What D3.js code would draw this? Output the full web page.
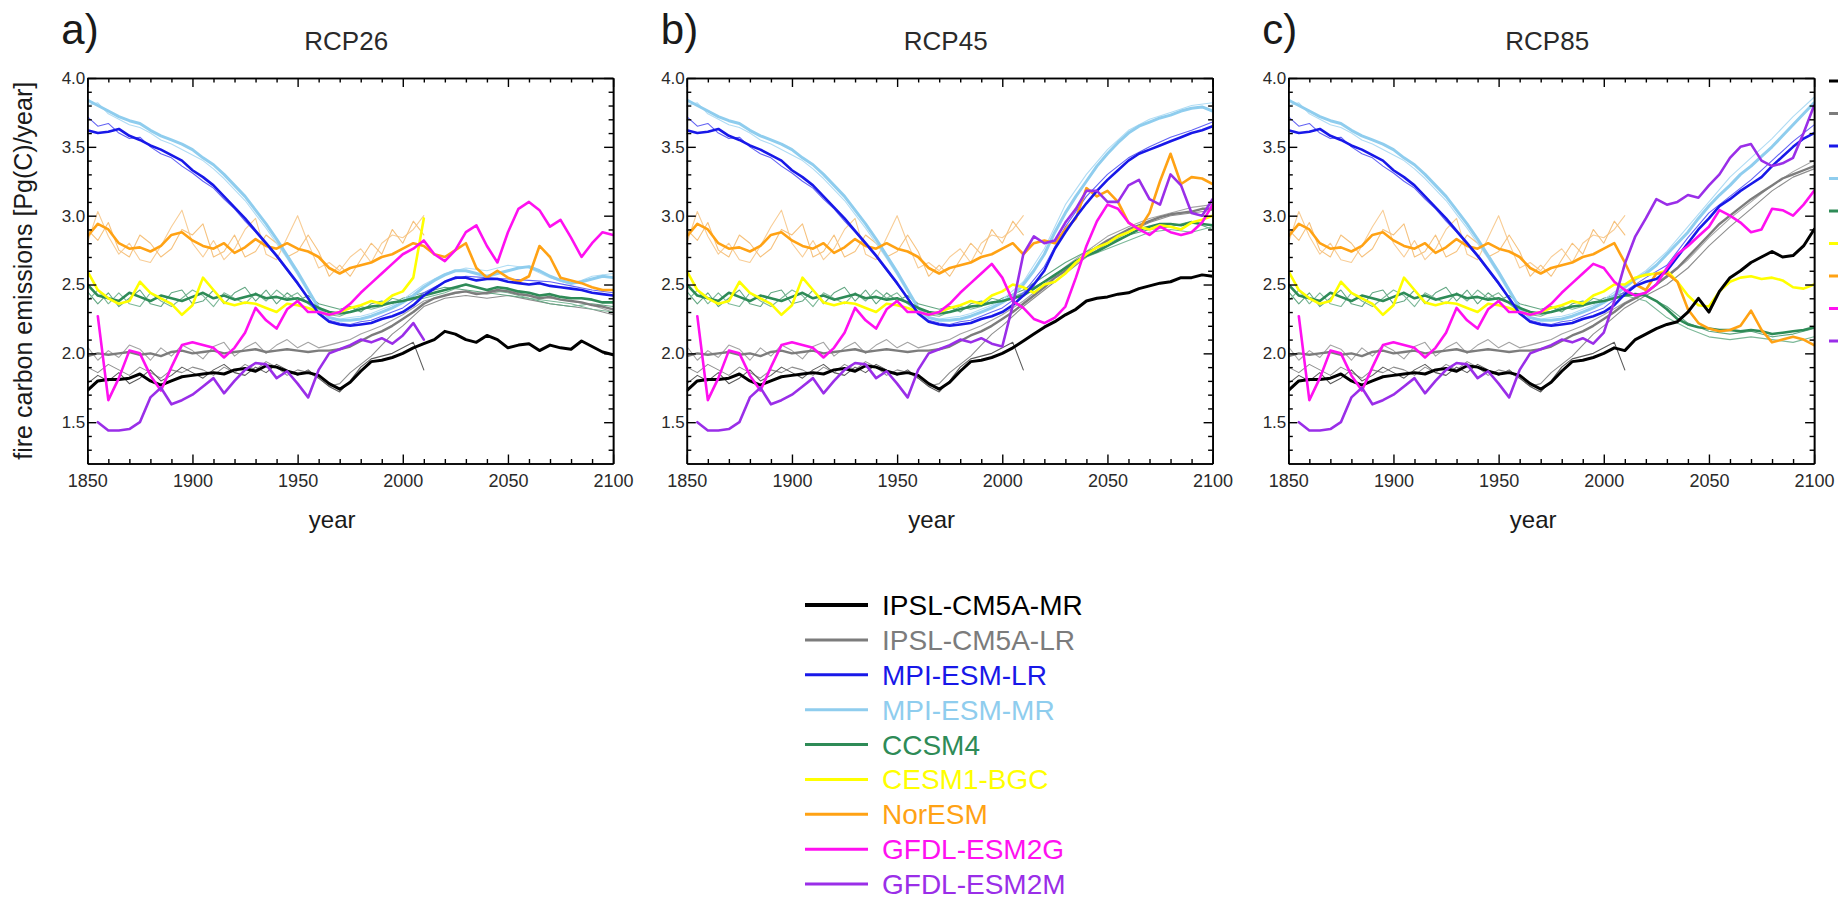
<!DOCTYPE html>
<html lang="en">
<head>
<meta charset="UTF-8">
<title>fire carbon emissions</title>
<script src="https://cdn.jsdelivr.net/npm/d3@7"></script>
<style>
  body { margin: 0; background: #fff; }
  svg { display: block; font-family: 'Liberation Sans', Arial, Helvetica, sans-serif; }
</style>
</head>
<body>
<svg id="chart" width="1845" height="906"></svg>
<script>
// x categories
const histYears = [1850, 1855, 1860, 1865, 1870, 1875, 1880, 1885, 1890, 1895, 1900, 1905, 1910, 1915, 1920,
  1925, 1930, 1935, 1940, 1945, 1950, 1955, 1960, 1965, 1970, 1975, 1980, 1985, 1990, 1995];
const scenYears = [2000, 2005, 2010, 2015, 2020, 2025, 2030, 2035, 2040, 2045, 2050, 2055, 2060, 2065, 2070,
  2075, 2080, 2085, 2090, 2095, 2100];
const thinScenYears = [2000, 2010, 2020, 2030, 2040, 2050, 2060, 2070, 2080, 2090, 2100];
const tailYears = [2000, 2005, 2010];

const scenarios = ['RCP26', 'RCP45', 'RCP85'];
const panelLetters = ['a)', 'b)', 'c)'];
const xTickLabels = [1850, 1900, 1950, 2000, 2050, 2100];
const yTickLabels = [1.5, 2.0, 2.5, 3.0, 3.5, 4.0];

const modelNames = ['IPSL-CM5A-MR', 'IPSL-CM5A-LR', 'MPI-ESM-LR', 'MPI-ESM-MR', 'CCSM4', 'CESM1-BGC',
  'NorESM', 'GFDL-ESM2G', 'GFDL-ESM2M'];
const modelColors = ['#000000', '#7c7c7c', '#1818e8', '#8fcdee', '#2e8b57', '#ffff00',
  '#ffa214', '#ff10f0', '#9a2ee8'];

// thick lines: historical part + one run per scenario
const ipslMR_hist = [1.73, 1.80, 1.81, 1.81, 1.82, 1.85, 1.80, 1.77, 1.80, 1.83, 1.84, 1.85, 1.86, 1.85, 1.88,
  1.89, 1.87, 1.91, 1.90, 1.87, 1.85, 1.86, 1.84, 1.78, 1.74, 1.79, 1.87, 1.94, 1.95, 1.97];
const ipslMR_26 = [2.00, 2.04, 2.07, 2.10, 2.16, 2.14, 2.10, 2.08, 2.13, 2.10, 2.04, 2.06, 2.07, 2.02, 2.06,
  2.04, 2.03, 2.09, 2.05, 2.01, 1.99];
const ipslMR_45 = [2.00, 2.04, 2.09, 2.14, 2.19, 2.23, 2.28, 2.32, 2.38, 2.40, 2.41, 2.43, 2.44, 2.47, 2.49,
  2.51, 2.52, 2.55, 2.55, 2.57, 2.56];
const ipslMR_85 = [2.00, 2.04, 2.02, 2.10, 2.14, 2.18, 2.21, 2.23, 2.30, 2.40, 2.30, 2.45, 2.55, 2.60, 2.66,
  2.70, 2.74, 2.70, 2.71, 2.78, 2.90];

const ipslLR_hist = [1.98, 2.00, 1.99, 2.00, 2.01, 1.99, 2.00, 1.98, 2.01, 2.02, 2.00, 2.01, 2.02, 2.00, 2.01,
  2.02, 2.03, 2.01, 2.02, 2.03, 2.02, 2.01, 2.02, 2.02, 2.03, 2.05, 2.09, 2.13, 2.16, 2.20];
const ipslLR_26 = [2.25, 2.30, 2.36, 2.40, 2.42, 2.44, 2.45, 2.43, 2.44, 2.46, 2.45, 2.43, 2.42, 2.40, 2.41,
  2.39, 2.38, 2.37, 2.35, 2.34, 2.32];
const ipslLR_45 = [2.25, 2.30, 2.36, 2.42, 2.48, 2.55, 2.60, 2.66, 2.72, 2.77, 2.82, 2.86, 2.90, 2.93, 2.96,
  2.99, 3.01, 3.02, 3.03, 3.05, 3.05];
const ipslLR_85 = [2.25, 2.30, 2.36, 2.40, 2.44, 2.50, 2.56, 2.62, 2.70, 2.78, 2.86, 2.94, 3.00, 3.06, 3.12,
  3.17, 3.22, 3.27, 3.30, 3.33, 3.36];

const mpiLR_hist = [3.62, 3.60, 3.61, 3.63, 3.58, 3.55, 3.51, 3.48, 3.44, 3.40, 3.33, 3.28, 3.22, 3.14, 3.06,
  2.98, 2.89, 2.80, 2.71, 2.61, 2.51, 2.40, 2.29, 2.23, 2.21, 2.20, 2.21, 2.22, 2.25, 2.27];
const mpiLR_26 = [2.30, 2.35, 2.42, 2.47, 2.52, 2.55, 2.55, 2.53, 2.54, 2.54, 2.52, 2.51, 2.50, 2.51, 2.49,
  2.48, 2.47, 2.46, 2.44, 2.43, 2.42];
const mpiLR_45 = [2.30, 2.35, 2.42, 2.50, 2.60, 2.76, 2.88, 2.99, 3.09, 3.18, 3.26, 3.33, 3.40, 3.45, 3.48,
  3.51, 3.54, 3.57, 3.60, 3.62, 3.65];
const mpiLR_85 = [2.30, 2.35, 2.43, 2.49, 2.52, 2.54, 2.60, 2.70, 2.80, 2.90, 2.98, 3.07, 3.12, 3.18, 3.23,
  3.28, 3.36, 3.43, 3.50, 3.56, 3.60];

const mpiMR_hist = [3.84, 3.80, 3.76, 3.72, 3.69, 3.67, 3.62, 3.58, 3.55, 3.52, 3.48, 3.42, 3.37, 3.30, 3.22,
  3.14, 3.04, 2.94, 2.83, 2.71, 2.59, 2.46, 2.33, 2.26, 2.24, 2.24, 2.25, 2.27, 2.30, 2.33];
const mpiMR_26 = [2.37, 2.42, 2.48, 2.53, 2.57, 2.60, 2.60, 2.58, 2.56, 2.58, 2.60, 2.62, 2.63, 2.60, 2.56,
  2.53, 2.51, 2.52, 2.54, 2.56, 2.55];
const mpiMR_45 = [2.37, 2.42, 2.50, 2.60, 2.72, 2.88, 3.02, 3.14, 3.25, 3.36, 3.45, 3.53, 3.60, 3.65, 3.68,
  3.71, 3.73, 3.76, 3.78, 3.79, 3.76];
const mpiMR_85 = [2.37, 2.42, 2.48, 2.54, 2.58, 2.64, 2.72, 2.80, 2.88, 2.98, 3.07, 3.15, 3.22, 3.30, 3.36,
  3.43, 3.50, 3.58, 3.66, 3.74, 3.82];

const ccsm4_hist = [2.50, 2.42, 2.40, 2.38, 2.44, 2.41, 2.38, 2.42, 2.40, 2.38, 2.41, 2.44, 2.40, 2.42, 2.39,
  2.41, 2.43, 2.40, 2.41, 2.39, 2.40, 2.37, 2.33, 2.30, 2.29, 2.30, 2.32, 2.34, 2.35, 2.37];
const ccsm4_26 = [2.38, 2.40, 2.42, 2.44, 2.46, 2.48, 2.50, 2.48, 2.46, 2.48, 2.47, 2.45, 2.44, 2.42, 2.43,
  2.41, 2.40, 2.40, 2.39, 2.37, 2.37];
const ccsm4_45 = [2.38, 2.40, 2.42, 2.47, 2.52, 2.57, 2.62, 2.67, 2.71, 2.74, 2.78, 2.82, 2.86, 2.90, 2.92,
  2.94, 2.94, 2.93, 2.95, 2.94, 2.93];
const ccsm4_85 = [2.38, 2.40, 2.42, 2.43, 2.42, 2.38, 2.32, 2.25, 2.21, 2.19, 2.18, 2.17, 2.17, 2.16, 2.17,
  2.16, 2.14, 2.15, 2.16, 2.17, 2.19];

const cesm_hist = [2.60, 2.46, 2.40, 2.36, 2.38, 2.52, 2.44, 2.40, 2.36, 2.28, 2.35, 2.55, 2.46, 2.37, 2.35,
  2.37, 2.36, 2.33, 2.30, 2.36, 2.35, 2.33, 2.30, 2.28, 2.30, 2.33, 2.35, 2.38, 2.36, 2.42];
const cesm_26 = [2.45, 2.55, 2.98, null, null, null, null, null, null, null, null, null, null, null, null,
  null, null, null, null, null, null];
const cesm_45 = [2.45, 2.50, 2.48, 2.44, 2.50, 2.52, 2.58, 2.66, 2.72, 2.77, 2.80, 2.85, 2.88, 2.92, 2.90,
  2.93, 2.92, 2.90, 2.95, 2.97, 3.00];
const cesm_85 = [2.45, 2.50, 2.50, 2.55, 2.57, 2.58, 2.60, 2.52, 2.42, 2.35, 2.34, 2.45, 2.52, 2.55, 2.56,
  2.54, 2.55, 2.53, 2.48, 2.47, 2.50];

const noresm_hist = [2.85, 2.94, 2.90, 2.80, 2.76, 2.77, 2.74, 2.78, 2.86, 2.88, 2.82, 2.78, 2.76, 2.80, 2.73,
  2.77, 2.83, 2.78, 2.76, 2.80, 2.76, 2.74, 2.70, 2.62, 2.58, 2.62, 2.64, 2.66, 2.70, 2.72];
const noresm_26 = [2.76, 2.80, 2.78, 2.72, 2.70, 2.75, 2.80, 2.62, 2.55, 2.60, 2.55, 2.52, 2.56, 2.78, 2.70,
  2.55, 2.53, 2.51, 2.48, 2.46, 2.46];
const noresm_45 = [2.76, 2.80, 2.72, 2.80, 2.82, 2.80, 2.90, 2.98, 3.20, 3.14, 3.18, 3.10, 2.95, 2.90, 3.02,
  3.25, 3.45, 3.23, 3.28, 3.27, 3.23];
const noresm_85 = [2.76, 2.80, 2.66, 2.50, 2.46, 2.58, 2.58, 2.52, 2.32, 2.22, 2.18, 2.16, 2.17, 2.20, 2.31,
  2.17, 2.08, 2.10, 2.12, 2.10, 2.06];

const gfdlG_hist = [null, 2.27, 1.66, 1.82, 2.02, 2.00, 1.84, 1.73, 1.90, 2.06, 2.08, 2.06, 2.04, 1.97, 2.04,
  2.15, 2.33, 2.24, 2.18, 2.32, 2.38, 2.30, 2.30, 2.28, 2.30, 2.36, 2.44, 2.51, 2.58, 2.65];
const gfdlG_26 = [2.72, 2.76, 2.82, 2.72, 2.67, 2.75, 2.88, 2.93, 2.78, 2.66, 2.88, 3.05, 3.10, 3.04, 2.92,
  2.97, 2.84, 2.70, 2.80, 2.88, 2.86];
const gfdlG_45 = [2.55, 2.38, 2.33, 2.25, 2.22, 2.26, 2.34, 2.55, 2.78, 2.96, 3.08, 3.05, 2.95, 2.90, 2.86,
  2.92, 2.88, 2.86, 2.88, 2.95, 3.08];
const gfdlG_85 = [2.62, 2.52, 2.46, 2.42, 2.44, 2.50, 2.62, 2.72, 2.78, 2.85, 2.92, 3.04, 3.00, 2.95, 2.88,
  2.90, 3.05, 3.04, 3.00, 3.08, 3.18];

const gfdlM_hist = [null, 1.50, 1.44, 1.44, 1.45, 1.50, 1.68, 1.75, 1.63, 1.66, 1.70, 1.76, 1.82, 1.71, 1.80,
  1.88, 1.93, 1.92, 1.82, 1.87, 1.78, 1.68, 1.88, 2.00, 2.03, 2.06, 2.10, 2.08, 2.11, 2.07];
const gfdlM_26 = [2.13, 2.22, 2.10, null, null, null, null, null, null, null, null, null, null, null, null,
  null, null, null, null, null, null];
const gfdlM_45 = [2.05, 2.35, 2.72, 2.85, 2.80, 2.82, 2.95, 3.05, 3.18, 3.18, 3.10, 3.10, 3.22, 3.26, 3.12,
  3.08, 3.30, 3.22, 3.02, 3.00, 3.12];
const gfdlM_85 = [2.15, 2.38, 2.65, 2.85, 2.98, 3.12, 3.08, 3.10, 3.15, 3.13, 3.22, 3.30, 3.42, 3.50, 3.52,
  3.40, 3.36, 3.38, 3.42, 3.60, 3.80];

// thin lines: other ensemble members
const ipslLR_m1_hist = [2.05, 1.95, 2.02, 1.97, 2.06, 2.03, 1.95, 2.04, 1.98, 2.06, 2.02, 1.96, 2.05, 2.08, 1.98,
  2.04, 2.08, 2.00, 2.06, 2.10, 2.04, 2.08, 2.04, 2.06, 2.08, 2.10, 2.14, 2.17, 2.20, 2.24];
const ipslLR_m1_26 = [2.28, 2.38, 2.42, 2.45, 2.43, 2.46, 2.42, 2.40, 2.38, 2.35, 2.30];
const ipslLR_m1_45 = [2.28, 2.38, 2.50, 2.63, 2.74, 2.85, 2.92, 2.98, 3.02, 3.06, 3.08];
const ipslLR_m1_85 = [2.28, 2.37, 2.45, 2.55, 2.68, 2.84, 2.98, 3.10, 3.22, 3.32, 3.40];

const ipslLR_m2_hist = [1.90, 1.86, 1.92, 1.88, 1.84, 1.90, 1.86, 1.82, 1.88, 1.86, 1.90, 1.88, 1.84, 1.90, 1.86,
  1.92, 1.88, 1.94, 1.90, 1.84, 1.88, 1.86, 1.82, 1.76, 1.78, 1.86, 1.92, 1.98, 2.06, 2.14];
const ipslLR_m2_26 = [2.20, 2.34, 2.40, 2.42, 2.40, 2.42, 2.39, 2.36, 2.34, 2.32, 2.28];
const ipslLR_m2_45 = [2.20, 2.34, 2.46, 2.58, 2.70, 2.80, 2.88, 2.95, 3.00, 3.02, 3.04];
const ipslLR_m2_85 = [2.20, 2.33, 2.42, 2.50, 2.62, 2.78, 2.92, 3.05, 3.18, 3.28, 3.34];

const ccsm4_m1_hist = [2.45, 2.36, 2.44, 2.34, 2.40, 2.46, 2.36, 2.34, 2.44, 2.46, 2.36, 2.38, 2.46, 2.36, 2.44,
  2.48, 2.38, 2.46, 2.36, 2.44, 2.38, 2.42, 2.36, 2.34, 2.32, 2.34, 2.30, 2.36, 2.38, 2.36];
const ccsm4_m1_26 = [2.40, 2.44, 2.48, 2.46, 2.44, 2.42, 2.40, 2.36, 2.34, 2.36, 2.34];
const ccsm4_m1_45 = [2.40, 2.46, 2.56, 2.66, 2.74, 2.80, 2.86, 2.90, 2.92, 2.96, 2.90];
const ccsm4_m1_85 = [2.40, 2.44, 2.42, 2.34, 2.22, 2.16, 2.14, 2.16, 2.12, 2.14, 2.18];

const ccsm4_m2_hist = [2.38, 2.46, 2.36, 2.44, 2.36, 2.34, 2.44, 2.38, 2.34, 2.40, 2.46, 2.42, 2.34, 2.44, 2.40,
  2.36, 2.44, 2.38, 2.46, 2.40, 2.44, 2.36, 2.30, 2.28, 2.27, 2.30, 2.34, 2.32, 2.34, 2.40];
const ccsm4_m2_26 = [2.38, 2.40, 2.44, 2.50, 2.46, 2.44, 2.40, 2.38, 2.36, 2.32, 2.30];
const ccsm4_m2_45 = [2.38, 2.44, 2.52, 2.62, 2.70, 2.76, 2.82, 2.88, 2.90, 2.88, 2.92];
const ccsm4_m2_85 = [2.38, 2.42, 2.38, 2.26, 2.18, 2.12, 2.10, 2.12, 2.10, 2.08, 2.12];

const mpiLR_m1_hist = [3.72, 3.65, 3.67, 3.60, 3.56, 3.57, 3.50, 3.45, 3.42, 3.36, 3.31, 3.25, 3.20, 3.12, 3.05,
  2.96, 2.88, 2.79, 2.70, 2.60, 2.50, 2.40, 2.30, 2.24, 2.22, 2.21, 2.23, 2.24, 2.27, 2.30];
const mpiLR_m1_26 = [2.33, 2.44, 2.52, 2.56, 2.55, 2.54, 2.53, 2.52, 2.49, 2.46, 2.44];
const mpiLR_m1_45 = [2.33, 2.44, 2.63, 2.92, 3.14, 3.30, 3.42, 3.50, 3.57, 3.62, 3.68];
const mpiLR_m1_85 = [2.33, 2.45, 2.55, 2.64, 2.84, 3.02, 3.14, 3.26, 3.40, 3.54, 3.66];

const mpiMR_m1_hist = [3.80, 3.82, 3.74, 3.70, 3.66, 3.64, 3.60, 3.55, 3.52, 3.48, 3.44, 3.40, 3.34, 3.27, 3.19,
  3.11, 3.01, 2.91, 2.80, 2.69, 2.57, 2.44, 2.32, 2.26, 2.25, 2.26, 2.27, 2.29, 2.32, 2.35];
const mpiMR_m1_26 = [2.39, 2.50, 2.58, 2.62, 2.60, 2.64, 2.62, 2.55, 2.50, 2.56, 2.58];
const mpiMR_m1_45 = [2.39, 2.52, 2.76, 3.08, 3.30, 3.48, 3.62, 3.70, 3.75, 3.80, 3.82];
const mpiMR_m1_85 = [2.39, 2.50, 2.60, 2.74, 2.92, 3.10, 3.28, 3.42, 3.56, 3.72, 3.86];

// historical-only members, ending around 2008
const noresm_m1_hist = [2.80, 3.03, 2.85, 2.72, 2.80, 2.68, 2.66, 2.78, 2.92, 3.04, 2.80, 2.70, 2.82, 2.68, 2.76,
  2.90, 2.98, 2.72, 2.68, 2.84, 3.00, 2.80, 2.62, 2.66, 2.60, 2.70, 2.76, 2.66, 2.80, 2.86];
const noresm_m1_tail = [2.84, 2.90, 3.00];
const noresm_m2_hist = [2.90, 2.82, 2.95, 2.75, 2.70, 2.86, 2.80, 2.70, 2.76, 2.90, 2.86, 2.94, 2.70, 2.74, 2.86,
  2.70, 2.74, 2.86, 2.80, 2.70, 2.74, 2.86, 2.74, 2.56, 2.64, 2.56, 2.68, 2.80, 2.72, 2.90];
const noresm_m2_tail = [2.80, 2.96, 2.86];
const ipslMR_m1_hist = [1.78, 1.84, 1.80, 1.86, 1.78, 1.82, 1.88, 1.80, 1.84, 1.90, 1.86, 1.82, 1.88, 1.92, 1.86,
  1.84, 1.90, 1.86, 1.92, 1.88, 1.84, 1.88, 1.82, 1.76, 1.72, 1.80, 1.90, 1.96, 1.98, 2.00];
const ipslMR_m1_tail = [2.04, 2.08, 1.88];

const thick = [
  { hist: ipslMR_hist, scen: [ipslMR_26, ipslMR_45, ipslMR_85] },
  { hist: ipslLR_hist, scen: [ipslLR_26, ipslLR_45, ipslLR_85] },
  { hist: mpiLR_hist, scen: [mpiLR_26, mpiLR_45, mpiLR_85] },
  { hist: mpiMR_hist, scen: [mpiMR_26, mpiMR_45, mpiMR_85] },
  { hist: ccsm4_hist, scen: [ccsm4_26, ccsm4_45, ccsm4_85] },
  { hist: cesm_hist, scen: [cesm_26, cesm_45, cesm_85] },
  { hist: noresm_hist, scen: [noresm_26, noresm_45, noresm_85] },
  { hist: gfdlG_hist, scen: [gfdlG_26, gfdlG_45, gfdlG_85] },
  { hist: gfdlM_hist, scen: [gfdlM_26, gfdlM_45, gfdlM_85] },
];
const thickWidth = [3, 2.4, 2.6, 3, 2.6, 2.6, 2.6, 2.6, 2.6];
// drawing order, back to front
const thickOrder = [1, 3, 4, 5, 6, 2, 0, 7, 8];

const thin = [
  { hist: noresm_m1_hist, tail: noresm_m1_tail, color: '#f8cd96' },
  { hist: noresm_m2_hist, tail: noresm_m2_tail, color: '#f6c27e' },
  { hist: ipslLR_m1_hist, scen: [ipslLR_m1_26, ipslLR_m1_45, ipslLR_m1_85], color: '#a4a4a4' },
  { hist: ipslLR_m2_hist, scen: [ipslLR_m2_26, ipslLR_m2_45, ipslLR_m2_85], color: '#8e8e8e' },
  { hist: ipslMR_m1_hist, tail: ipslMR_m1_tail, color: '#5a5a5a' },
  { hist: ccsm4_m1_hist, scen: [ccsm4_m1_26, ccsm4_m1_45, ccsm4_m1_85], color: '#63a783' },
  { hist: ccsm4_m2_hist, scen: [ccsm4_m2_26, ccsm4_m2_45, ccsm4_m2_85], color: '#7cb898' },
  { hist: mpiMR_m1_hist, scen: [mpiMR_m1_26, mpiMR_m1_45, mpiMR_m1_85], color: '#b0dcf4' },
  { hist: mpiLR_m1_hist, scen: [mpiLR_m1_26, mpiLR_m1_45, mpiLR_m1_85], color: '#6464f4' },
];

const svg = d3.select('#chart');
const plotW = 525.8;
const plotTop = 78, plotBottom = 463.5;
const panelLeft = [87.3, 686.8, 1288.3];

const y = d3.scaleLinear().domain([1.2, 4.0]).range([plotBottom, plotTop]);

function pts(years, vals) {
  return years.map((yr, i) => ({ year: yr, v: vals[i] }));
}

const xMinor = d3.range(1860, 2100, 10).filter(d => d % 50 !== 0);
const yMinor = d3.range(13, 40).map(d => d / 10).filter(d => Math.round(d * 10) % 5 !== 0);

scenarios.forEach((sc, p) => {
  const x = d3.scaleLinear().domain([1850, 2100]).range([panelLeft[p], panelLeft[p] + plotW]);
  const line = d3.line().defined(d => d.v != null).x(d => x(d.year)).y(d => y(d.v));
  const g = svg.append('g');

  g.append('clipPath').attr('id', 'clip' + p)
    .append('rect').attr('x', panelLeft[p]).attr('y', plotTop).attr('width', plotW).attr('height', plotBottom - plotTop);

  const lines = g.append('g').attr('clip-path', `url(#clip${p})`).attr('fill', 'none')
    .attr('stroke-linejoin', 'round').attr('stroke-linecap', 'round');

  thin.forEach(m => {
    const data = m.tail
      ? pts(histYears, m.hist).concat(pts(tailYears, m.tail))
      : pts(histYears, m.hist).concat(pts(thinScenYears, m.scen[p]));
    lines.append('path').attr('d', line(data)).attr('stroke', m.color).attr('stroke-width', 1.1);
  });

  thickOrder.forEach(k => {
    const m = thick[k];
    const data = pts(histYears, m.hist).concat(pts(scenYears, m.scen[p]));
    lines.append('path').attr('d', line(data)).attr('stroke', modelColors[k]).attr('stroke-width', thickWidth[k]);
  });

  // frame with inward ticks
  const axes = g.append('g');
  const bottomAxis = axes.append('g').attr('transform', `translate(0,${plotBottom})`)
    .call(d3.axisBottom(x).tickValues(xTickLabels).tickFormat(d3.format('d')).tickSize(-9).tickSizeOuter(0).tickPadding(11));
  axes.append('g').attr('transform', `translate(0,${plotBottom})`)
    .call(d3.axisBottom(x).tickValues(xMinor).tickFormat('').tickSize(-4.5).tickSizeOuter(0));
  axes.append('g').attr('transform', `translate(0,${plotTop})`)
    .call(d3.axisTop(x).tickValues(xTickLabels).tickFormat('').tickSize(-9).tickSizeOuter(0));
  axes.append('g').attr('transform', `translate(0,${plotTop})`)
    .call(d3.axisTop(x).tickValues(xMinor).tickFormat('').tickSize(-4.5).tickSizeOuter(0));
  const leftAxis = axes.append('g').attr('transform', `translate(${panelLeft[p]},0)`)
    .call(d3.axisLeft(y).tickValues(yTickLabels).tickFormat(d3.format('.1f')).tickSize(-9).tickSizeOuter(0).tickPadding(2));
  axes.append('g').attr('transform', `translate(${panelLeft[p]},0)`)
    .call(d3.axisLeft(y).tickValues(yMinor).tickFormat('').tickSize(-4.5).tickSizeOuter(0));
  axes.append('g').attr('transform', `translate(${panelLeft[p] + plotW},0)`)
    .call(d3.axisRight(y).tickValues(yTickLabels).tickFormat('').tickSize(-9).tickSizeOuter(0));
  axes.append('g').attr('transform', `translate(${panelLeft[p] + plotW},0)`)
    .call(d3.axisRight(y).tickValues(yMinor).tickFormat('').tickSize(-4.5).tickSizeOuter(0));

  axes.selectAll('.domain').attr('stroke', '#000').attr('stroke-width', 1.6);
  axes.selectAll('.tick line').attr('stroke', '#000').attr('stroke-width', 1.4);
  axes.selectAll('.tick text').attr('fill', '#2a2a2a').style('font-family', 'Liberation Sans, Arial, sans-serif');
  bottomAxis.selectAll('.tick text').style('font-size', '18px');
  leftAxis.selectAll('.tick text').style('font-size', '17px');

  // titles
  g.append('text').attr('x', panelLeft[p] - 26).attr('y', 44)
    .style('font-size', '42px').attr('fill', '#1a1a1a').text(panelLetters[p]);
  g.append('text').attr('x', panelLeft[p] + plotW / 2 - 4).attr('y', 50).attr('text-anchor', 'middle')
    .style('font-size', '26px').attr('fill', '#2a2a2a').text(sc);
  g.append('text').attr('x', panelLeft[p] + plotW / 2 - 18).attr('y', 528).attr('text-anchor', 'middle')
    .style('font-size', '24px').attr('fill', '#1a1a1a').text('year');
});

// y axis label
svg.append('text').attr('transform', `translate(32,${(plotTop + plotBottom) / 2}) rotate(-90)`)
  .attr('text-anchor', 'middle').style('font-size', '25px').attr('fill', '#1a1a1a')
  .text('fire carbon emissions [Pg(C)/year]');

// the cropped legend at the right edge of panel c: only its line samples remain
const stub = d3.scalePoint().domain(modelNames).range([81, 341]);
svg.append('g').selectAll('line').data(modelNames).join('line')
  .attr('x1', 1829).attr('x2', 1838)
  .attr('y1', d => stub(d)).attr('y2', d => stub(d))
  .attr('stroke', (d, i) => modelColors[i]).attr('stroke-width', 3);

// bottom legend
const row = d3.scalePoint().domain(modelNames).range([605, 884]);
const legend = svg.append('g');
legend.selectAll('line').data(modelNames).join('line')
  .attr('x1', 805).attr('x2', 868)
  .attr('y1', d => row(d)).attr('y2', d => row(d))
  .attr('stroke', (d, i) => modelColors[i])
  .attr('stroke-width', (d, i) => i === 0 ? 4 : 3);
legend.selectAll('text').data(modelNames).join('text')
  .attr('x', 882).attr('y', d => row(d)).attr('dy', '0.36em')
  .style('font-size', '28px')
  .attr('fill', (d, i) => modelColors[i])
  .text(d => d);
</script>
</body>
</html>
